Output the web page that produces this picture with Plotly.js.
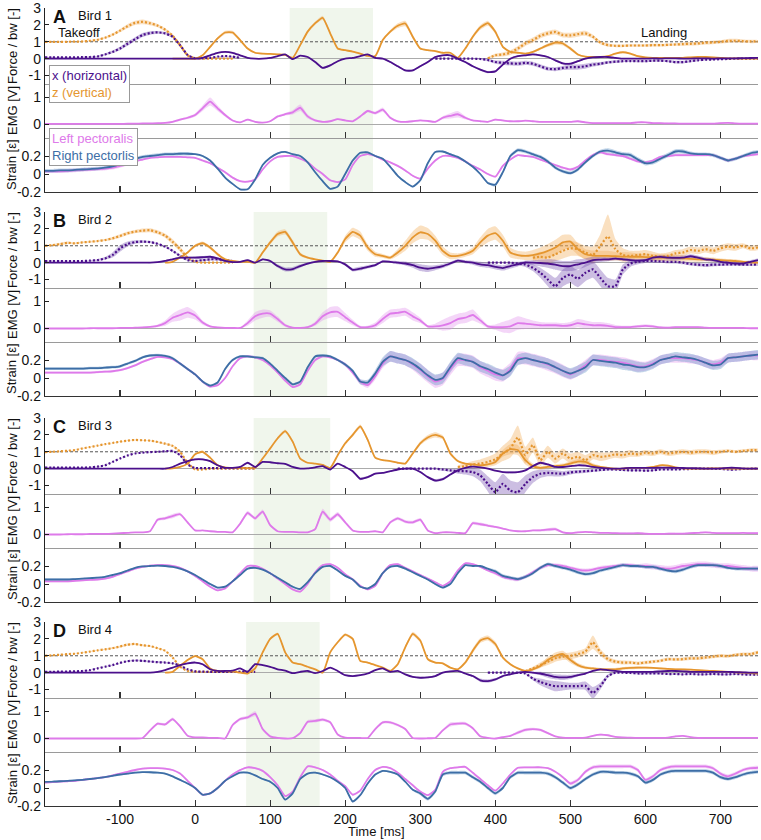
<!DOCTYPE html>
<html><head><meta charset="utf-8">
<script src="https://cdn.plot.ly/plotly-3.0.1.min.js"></script>
<style>html,body{margin:0;padding:0;background:#fff}#chart{width:761px;height:840px}</style>
</head><body><div id="chart"></div>
<script>
// ---------------- time grid (ms) ----------------
const time = [-200,-190,-180,-170,-160,-150,-140,-130,-120,-110,-100,-90,-80,-70,-60,-50,-40,-30,-20,-10,0,10,20,30,40,50,60,70,80,90,100,110,120,130,140,150,160,170,180,190,200,210,220,230,240,250,260,270,280,290,300,310,320,330,340,350,360,370,380,390,400,410,420,430,440,450,460,470,480,490,500,510,520,530,540,550,560,570,580,590,600,610,620,630,640,650,660,670,680,690,700,710,720,730,740,750];
const xTickVals = [-100,0,100,200,300,400,500,600,700];
const xTickText = ['-100','0','100','200','300','400','500','600','700'];
const birdLetters = ['A','B','C','D'];
const birdNames = ['Bird 1','Bird 2','Bird 3','Bird 4'];
const shadeStart = [126, 78, 78, 68];
const shadeEnd = [237, 176, 180, 166];

// ================= BIRD 1 =================
const b1_zT_t0 = -200;
const b1_zT = [1.0,1.0,1.0,1.0,1.01,1.02,1.06,1.12,1.24,1.42, 1.66,1.92,2.12,2.18,2.1,1.96,1.72,1.36,0.8,0.2, 0.02,0,0,0,0,0];
const b1_zT_sd = [0.03,0.03,0.03,0.03,0.03,0.03,0.04,0.05,0.06,0.08, 0.1,0.12,0.12,0.14,0.12,0.1,0.1,0.1,0.12,0.08, 0.03,0.02,0.02,0.02,0.02,0.02];
const b1_xT_t0 = -200;
const b1_xT = [0.08,0.08,0.08,0.08,0.08,0.09,0.1,0.13,0.25,0.4, 0.6,0.88,1.15,1.4,1.52,1.56,1.5,1.3,0.8,0.22, 0.02,0.02,0.05,0.12,0.15,0.12,0.05];
const b1_xT_sd = [0.02,0.02,0.02,0.02,0.02,0.03,0.04,0.05,0.06,0.08, 0.1,0.12,0.12,0.12,0.1,0.08,0.08,0.08,0.1,0.06, 0.03,0.03,0.03,0.03,0.03,0.03,0.03];
const b1_xS_t0 = -200;
const b1_xS = [0,0,0,0,0,0,0,0,0,0, 0,0,0,0,0,0,0,0,0,0,
  0,0.05,0.2,0.35,0.4,0.35,0.2,0.05,0,0,
  0.05,0.15,0.25,-0.03,0.18,0.1,-0.2,-0.55,-0.4,-0.15,
  0,0.05,0.15,0.25,0.05,0,-0.2,-0.45,-0.7,-0.7,
  -0.45,-0.2,0.1,0.2,0.2,0,-0.2,-0.45,-0.65,-0.8,
  -0.75,-0.35,0,0.15,0.2,0.25,0.2,0.1,-0.1,-0.28,
  -0.3,-0.15,0,0.08,0.1,0.1,0.05,0,0,0,
  0,0.02,0,0.02,0.02,0,0,0.02,0.02,0,
  0.02,0.02,0.02,0.03,0.04,0.05];
const b1_xS_sd = [0.01,0.01,0.01,0.01,0.01,0.01,0.01,0.01,0.01,0.01, 0.01,0.01,0.01,0.01,0.01,0.01,0.01,0.01,0.01,0.01,
  0.02,0.02,0.03,0.04,0.04,0.04,0.03,0.02,0.02,0.02,
  0.02,0.03,0.03,0.03,0.03,0.03,0.04,0.06,0.05,0.03,
  0.02,0.03,0.03,0.03,0.03,0.03,0.04,0.05,0.06,0.06,
  0.05,0.04,0.04,0.04,0.03,0.03,0.04,0.05,0.06,0.06,
  0.06,0.05,0.05,0.05,0.05,0.05,0.05,0.05,0.06,0.06,
  0.06,0.05,0.05,0.04,0.04,0.04,0.04,0.04,0.04,0.04,
  0.03,0.03,0.03,0.03,0.03,0.03,0.03,0.03,0.03,0.03,
  0.03,0.03,0.03,0.03,0.03,0.03];
const b1_zS_t0 = -30;
const b1_zS = [0,0,0,
  0,0.2,0.7,1.2,1.55,1.55,1.1,0.6,0.35,0.3,
  0.28,0.25,0.22,0.05,0.8,1.6,2.1,2.42,1.5,0.6,
  0.5,0.42,0.3,0.16,0.15,1.1,1.6,1.95,2.08,1.3,
  0.6,0.5,0.45,0.35,0.35,0.05,0.6,1.3,1.85,2.1,
  1.6,0.7,0.4,0.35,0.3,0.4,0.6,0.8,0.95,0.9,
  0.6,0.25,0.12,0.1,0.1,0.15,0.3,0.38,0.3,0.15,
  0.08,0.05,0.05,0.05,0.05,0.05,0.08,0.1,0.1,0.08,
  0.05,0.02,0.02,0,0,0];
const b1_zS_sd = [0.02,0.02,0.02,
  0.02,0.04,0.06,0.08,0.1,0.1,0.08,0.05,0.04,0.04,
  0.04,0.04,0.04,0.04,0.06,0.08,0.1,0.12,0.08,0.05,
  0.04,0.04,0.04,0.04,0.04,0.06,0.1,0.14,0.16,0.12,
  0.06,0.05,0.05,0.05,0.05,0.05,0.06,0.1,0.14,0.15,
  0.12,0.06,0.05,0.05,0.05,0.06,0.08,0.1,0.12,0.12,
  0.1,0.06,0.04,0.04,0.04,0.04,0.05,0.05,0.05,0.04,
  0.03,0.03,0.03,0.03,0.03,0.03,0.03,0.03,0.03,0.03,
  0.03,0.03,0.03,0.03,0.03,0.03];
const b1_zL_t0 = 390;
const b1_zL = [0.02,
  0.2,0.25,0.35,0.6,0.9,1.1,1.35,1.5,1.58,1.4,
  1.38,1.45,1.5,1.3,0.95,0.8,0.76,0.76,0.78,0.78,
  0.78,0.8,0.8,0.82,0.84,0.86,0.88,0.9,0.94,0.96,
  1.0,1.05,1.06,1.04,1.02,1.02];
const b1_zL_sd = [0.05,
  0.1,0.12,0.14,0.15,0.15,0.15,0.15,0.15,0.15,0.15,
  0.15,0.15,0.15,0.12,0.1,0.1,0.08,0.08,0.08,0.08,
  0.08,0.08,0.08,0.08,0.08,0.1,0.1,0.1,0.1,0.1,
  0.1,0.12,0.12,0.1,0.1,0.08];
const b1_xL_t0 = 320;
const b1_xL = [0,0,0,0,0,0,-0.02,-0.08,
  -0.2,-0.25,-0.28,-0.3,-0.25,-0.3,-0.45,-0.6,-0.62,-0.55,
  -0.5,-0.5,-0.45,-0.35,-0.3,-0.22,-0.18,-0.15,-0.14,-0.15,
  -0.15,-0.12,-0.12,-0.15,-0.2,-0.2,-0.15,-0.1,-0.06,-0.05,
  -0.03,-0.02,0,0,0,0];
const b1_xL_sd = [0.01,0.01,0.02,0.02,0.03,0.04,0.06,0.08,
  0.1,0.12,0.12,0.12,0.12,0.12,0.12,0.12,0.12,0.12,
  0.15,0.15,0.15,0.12,0.1,0.08,0.08,0.06,0.06,0.06,
  0.06,0.06,0.06,0.06,0.08,0.08,0.06,0.05,0.05,0.05,
  0.04,0.04,0.04,0.04,0.03,0.03];
const b1_emg = [0.02,0.02,0.02,0.02,0.02,0.02,0.02,0.02,0.02,0.02,
  0.02,0.03,0.03,0.04,0.04,0.05,0.06,0.1,0.18,0.25,
  0.35,0.6,0.85,0.6,0.35,0.15,0.08,0.18,0.1,0.07,
  0.12,0.3,0.38,0.45,0.62,0.3,0.15,0.1,0.12,0.2,
  0.15,0.12,0.3,0.5,0.42,0.55,0.25,0.12,0.1,0.12,
  0.15,0.13,0.1,0.25,0.32,0.38,0.25,0.15,0.12,0.1,
  0.18,0.15,0.12,0.12,0.14,0.12,0.1,0.1,0.1,0.1,
  0.1,0.12,0.08,0.05,0.05,0.05,0.05,0.05,0.05,0.08,
  0.08,0.05,0.05,0.04,0.04,0.03,0.03,0.03,0.03,0.03,
  0.05,0.06,0.04,0.03,0.03,0.03];
const b1_emg_sd = [0.01,0.01,0.01,0.01,0.01,0.01,0.01,0.01,0.01,0.01,
  0.01,0.01,0.01,0.01,0.01,0.01,0.02,0.03,0.04,0.05,
  0.06,0.1,0.15,0.1,0.06,0.03,0.02,0.03,0.03,0.02,
  0.03,0.04,0.05,0.08,0.12,0.08,0.04,0.03,0.03,0.03,
  0.03,0.03,0.04,0.05,0.06,0.08,0.05,0.03,0.03,0.03,
  0.03,0.03,0.03,0.06,0.1,0.12,0.06,0.03,0.03,0.03,
  0.03,0.03,0.03,0.03,0.03,0.03,0.03,0.03,0.03,0.03,
  0.03,0.03,0.03,0.03,0.03,0.03,0.03,0.03,0.03,0.03,
  0.02,0.02,0.02,0.02,0.02,0.02,0.02,0.02,0.02,0.02,
  0.02,0.02,0.02,0.02,0.02,0.02];
const b1_sL = [0.03,0.03,0.03,0.035,0.04,0.045,0.05,0.055,0.06,0.07,
  0.09,0.11,0.14,0.16,0.18,0.185,0.19,0.19,0.19,0.185,
  0.18,0.15,0.12,0.07,0.02,-0.04,-0.08,-0.085,-0.06,0.05,
  0.14,0.19,0.2,0.2,0.17,0.13,0.06,0.0,-0.07,-0.09,
  -0.06,0.1,0.2,0.22,0.2,0.16,0.13,0.09,0.04,-0.02,
  -0.05,0.06,0.15,0.2,0.2,0.18,0.14,0.09,0.05,0.0,
  -0.03,0.09,0.16,0.21,0.2,0.19,0.16,0.13,0.1,0.07,
  0.05,0.08,0.15,0.21,0.24,0.22,0.21,0.2,0.17,0.14,
  0.13,0.15,0.19,0.2,0.21,0.21,0.21,0.21,0.21,0.21,
  0.18,0.15,0.17,0.2,0.21,0.22];
const b1_sL_sd = [0.015,0.015,0.02,0.02,0.02,0.02,0.02,0.02,0.02,0.02,
  0.02,0.015,0.01,0.01,0.01,0.01,0.01,0.01,0.01,0.01,
  0.01,0.01,0.01,0.01,0.01,0.01,0.01,0.01,0.01,0.01,
  0.01,0.01,0.01,0.01,0.01,0.01,0.01,0.01,0.01,0.01,
  0.01,0.01,0.01,0.01,0.01,0.01,0.01,0.01,0.01,0.01,
  0.01,0.01,0.01,0.01,0.01,0.01,0.01,0.01,0.01,0.01,
  0.01,0.01,0.01,0.01,0.01,0.01,0.01,0.01,0.01,0.01,
  0.015,0.015,0.015,0.015,0.015,0.015,0.015,0.015,0.015,0.015,
  0.015,0.015,0.015,0.015,0.015,0.015,0.015,0.015,0.015,0.015,
  0.015,0.015,0.015,0.015,0.015,0.015];
const b1_sR = [0.035,0.035,0.04,0.04,0.045,0.05,0.055,0.06,0.07,0.085,
  0.11,0.14,0.165,0.19,0.2,0.21,0.22,0.22,0.225,0.225,
  0.22,0.2,0.15,0.06,-0.04,-0.11,-0.17,-0.17,-0.06,0.1,
  0.18,0.23,0.245,0.22,0.2,0.13,0.02,-0.08,-0.165,-0.14,
  0.0,0.15,0.236,0.24,0.2,0.17,0.08,-0.02,-0.09,-0.14,
  -0.07,0.12,0.245,0.25,0.22,0.19,0.14,0.08,0.0,-0.1,
  -0.12,0.02,0.2,0.265,0.25,0.22,0.19,0.14,0.07,0.03,
  0.01,0.05,0.13,0.2,0.25,0.26,0.24,0.22,0.21,0.16,
  0.12,0.13,0.17,0.21,0.25,0.25,0.23,0.22,0.22,0.21,
  0.18,0.15,0.17,0.2,0.23,0.245];
const b1_sR_sd = [0.02,0.02,0.02,0.02,0.02,0.02,0.02,0.02,0.02,0.02,
  0.02,0.02,0.02,0.02,0.02,0.02,0.02,0.02,0.02,0.02,
  0.01,0.01,0.01,0.01,0.01,0.01,0.01,0.01,0.01,0.01,
  0.01,0.01,0.01,0.01,0.01,0.01,0.01,0.01,0.01,0.01,
  0.01,0.01,0.01,0.01,0.01,0.01,0.01,0.01,0.01,0.01,
  0.01,0.01,0.01,0.01,0.01,0.01,0.01,0.01,0.01,0.01,
  0.02,0.02,0.02,0.02,0.02,0.02,0.02,0.02,0.02,0.02,
  0.02,0.02,0.02,0.02,0.02,0.025,0.025,0.025,0.025,0.025,
  0.025,0.025,0.025,0.025,0.025,0.025,0.02,0.02,0.02,0.02,
  0.02,0.02,0.02,0.02,0.02,0.02];

// ================= BIRD 2 =================
const b2_zT_t0 = -200;
const b2_zT = [1.0,1.04,1.1,1.18,1.14,1.2,1.24,1.28,1.34,1.44, 1.58,1.74,1.84,1.9,1.92,1.8,1.6,1.24,0.8,0.3, 0.05,0,0,0,0,0];
const b2_zT_sd = [0.03,0.05,0.08,0.08,0.05,0.05,0.05,0.05,0.06,0.08, 0.1,0.1,0.1,0.12,0.12,0.12,0.12,0.15,0.15,0.1, 0.03,0.02,0.02,0.02,0.02,0.02];
const b2_xT_t0 = -200;
const b2_xT = [0.1,0.1,0.1,0.1,0.1,0.1,0.12,0.15,0.25,0.45, 0.84,1.1,1.22,1.25,1.22,1.12,0.95,0.7,0.4,0.15, 0.1,0.15,0.2,0.2,0.15,0.1];
const b2_xT_sd = [0.02,0.02,0.02,0.02,0.02,0.02,0.03,0.05,0.08,0.15, 0.2,0.15,0.1,0.08,0.06,0.05,0.05,0.06,0.08,0.05, 0.04,0.06,0.08,0.08,0.06,0.04];
const b2_xS_t0 = -200;
const b2_xS = [0,0,0,0,0,0,0,0,0,0,
  0,0,0,0,0,0.03,0.1,0.2,0.3,0.3,
  0.3,0.32,0.35,0.25,0.1,0.03,0.05,0.15,0.0,0.2,
  0.1,-0.2,-0.4,-0.38,-0.2,-0.05,0.05,0.1,0.1,0.08,
  -0.1,-0.42,-0.35,-0.25,-0.15,0.08,0.05,0.0,-0.05,-0.15,
  -0.3,-0.36,-0.3,-0.2,-0.05,0.12,0.05,0.0,-0.1,-0.15,
  -0.25,-0.32,-0.2,-0.1,0.02,0.0,-0.02,-0.05,-0.12,-0.2,
  -0.2,-0.1,0.0,0.15,0.18,0.2,0.24,0.2,0.15,0.12,
  0.15,0.3,0.34,0.3,0.28,0.3,0.38,0.3,0.2,0.15,
  0.05,0.0,-0.05,-0.05,0.05,0.15];
const b2_xS_sd = [0.02,0.02,0.02,0.02,0.02,0.02,0.02,0.02,0.02,0.02,
  0.02,0.02,0.02,0.02,0.03,0.04,0.05,0.05,0.06,0.06,
  0.08,0.08,0.06,0.05,0.04,0.03,0.03,0.04,0.04,0.05,
  0.06,0.1,0.12,0.12,0.1,0.06,0.05,0.05,0.05,0.05,
  0.08,0.1,0.12,0.1,0.08,0.06,0.06,0.1,0.12,0.15,
  0.2,0.2,0.15,0.12,0.1,0.1,0.1,0.12,0.15,0.15,
  0.15,0.15,0.15,0.12,0.1,0.15,0.2,0.25,0.3,0.3,
  0.3,0.3,0.25,0.2,0.15,0.12,0.1,0.1,0.1,0.1,
  0.1,0.1,0.12,0.12,0.12,0.12,0.12,0.12,0.1,0.1,
  0.1,0.1,0.1,0.1,0.1,0.1];
const b2_zS_t0 = -40;
const b2_zS = [0,0.05,0.3,0.6,
  1.0,1.15,0.9,0.5,0.2,0.1,0.05,0.05,0,0.6,
  1.2,1.7,1.82,1.2,0.5,0.3,0.2,0.12,0.05,0.6,
  1.4,1.82,1.6,0.9,0.5,0.4,0.3,0.6,1.0,1.5,
  1.8,1.7,1.3,0.7,0.4,0.4,0.5,0.7,1.2,1.6,
  1.75,1.3,0.6,0.45,0.4,0.45,0.55,0.7,0.9,1.2,
  1.25,0.8,0.5,0.42,0.4,0.4,0.38,0.36,0.35,0.35,
  0.33,0.32,0.3,0.3,0.28,0.25,0.22,0.2,0.2,0.18,
  0.15,0.12,0.1,0.05,0.02,0];
const b2_zS_sd = [0.02,0.02,0.04,0.06,
  0.08,0.1,0.1,0.08,0.05,0.03,0.03,0.03,0.03,0.08,
  0.12,0.15,0.15,0.15,0.1,0.06,0.05,0.04,0.04,0.1,
  0.2,0.25,0.25,0.2,0.15,0.12,0.1,0.2,0.3,0.35,
  0.4,0.35,0.3,0.25,0.2,0.15,0.15,0.2,0.3,0.4,
  0.4,0.35,0.3,0.25,0.25,0.3,0.35,0.4,0.45,0.45,
  0.4,0.35,0.3,0.3,0.3,0.3,0.25,0.25,0.25,0.2,
  0.2,0.2,0.2,0.2,0.2,0.18,0.15,0.15,0.12,0.12,
  0.1,0.1,0.1,0.08,0.08,0.08];
const b2_zL_t0 = 450;
const b2_zL = [0.3,0.35,0.3,0.5,0.7,
  0.85,0.8,0.6,0.45,1.0,1.55,0.8,0.45,0.4,0.45,
  0.5,0.4,0.35,0.4,0.55,0.6,0.75,0.7,0.8,0.7,
  0.85,0.95,0.9,1.0,0.85,0.9];
const b2_zL_sd = [0.2,0.3,0.35,0.4,0.45,
  0.45,0.4,0.4,0.5,0.7,1.3,0.6,0.4,0.3,0.25,
  0.25,0.25,0.2,0.2,0.2,0.2,0.2,0.2,0.2,0.2,
  0.2,0.2,0.2,0.15,0.15,0.15];
const b2_xL_t0 = 390;
const b2_xL = [0,
  0,0,0,-0.05,-0.1,-0.3,-0.6,-1.0,-1.4,-0.9,
  -0.7,-0.95,-0.6,-0.4,-0.9,-1.4,-1.4,-0.4,-0.05,0.05,
  0.1,0.1,0.08,0.05,0.05,0,-0.08,-0.12,-0.15,-0.12,
  -0.12,-0.1,-0.1,-0.12,-0.12,-0.1];
const b2_xL_sd = [0.02,
  0.02,0.03,0.05,0.1,0.15,0.2,0.3,0.4,0.5,0.5,
  0.5,0.5,0.5,0.5,0.5,0.5,0.4,0.3,0.2,0.15,
  0.12,0.12,0.1,0.1,0.1,0.1,0.1,0.1,0.1,0.1,
  0.08,0.08,0.08,0.08,0.08,0.08];
const b2_emg = [0,0,0,0,0,0,0.01,0.01,0.01,0.01,
  0.02,0.02,0.03,0.04,0.06,0.1,0.2,0.4,0.5,0.6,
  0.48,0.22,0.08,0.04,0.02,0.02,0.02,0.2,0.45,0.55,
  0.55,0.35,0.12,0.03,0.02,0.05,0.18,0.45,0.6,0.62,
  0.42,0.22,0.05,0.05,0.12,0.35,0.55,0.58,0.62,0.45,
  0.3,0.08,0.08,0.12,0.2,0.35,0.4,0.5,0.3,0.08,
  0.05,0.05,0.08,0.2,0.18,0.15,0.12,0.12,0.12,0.1,
  0.12,0.2,0.15,0.12,0.12,0.1,0.05,0.05,0.05,0.08,
  0.1,0.08,0.04,0.03,0.05,0.05,0.05,0.05,0.03,0.02,
  0.02,0.02,0.02,0.02,0.01,0.01];
const b2_emg_sd = [0.01,0.01,0.01,0.01,0.01,0.01,0.01,0.01,0.01,0.01,
  0.01,0.01,0.01,0.02,0.03,0.05,0.1,0.15,0.2,0.2,
  0.15,0.08,0.04,0.02,0.02,0.02,0.02,0.1,0.15,0.15,
  0.12,0.1,0.06,0.03,0.02,0.03,0.08,0.15,0.2,0.2,
  0.15,0.1,0.05,0.05,0.1,0.15,0.15,0.15,0.15,0.15,
  0.1,0.05,0.1,0.2,0.25,0.2,0.2,0.2,0.12,0.06,
  0.1,0.2,0.25,0.25,0.2,0.15,0.12,0.1,0.1,0.1,
  0.12,0.15,0.15,0.12,0.12,0.1,0.08,0.05,0.05,0.05,
  0.06,0.05,0.04,0.03,0.03,0.03,0.03,0.03,0.02,0.02,
  0.02,0.02,0.02,0.02,0.02,0.02];
const b2_sL = [0.06,0.06,0.06,0.06,0.06,0.06,0.06,0.065,0.07,0.075,
  0.087,0.11,0.14,0.18,0.21,0.235,0.23,0.21,0.16,0.1,
  0.04,-0.04,-0.095,-0.08,0.0,0.13,0.22,0.24,0.23,0.2,
  0.14,0.06,-0.03,-0.1,-0.07,0.08,0.2,0.24,0.23,0.2,
  0.15,0.06,-0.04,-0.08,0.02,0.16,0.24,0.22,0.2,0.15,
  0.09,0.02,-0.04,-0.01,0.1,0.2,0.2,0.18,0.12,0.08,
  0.04,0.03,0.1,0.22,0.22,0.2,0.18,0.15,0.12,0.08,
  0.04,0.08,0.14,0.2,0.2,0.19,0.18,0.17,0.15,0.13,
  0.13,0.16,0.2,0.22,0.22,0.22,0.21,0.2,0.17,0.15,
  0.17,0.22,0.23,0.24,0.25,0.25];
const b2_sL_sd = [0.012,0.012,0.012,0.012,0.012,0.012,0.012,0.012,0.012,0.012,
  0.012,0.012,0.012,0.012,0.012,0.012,0.012,0.012,0.012,0.012,
  0.012,0.012,0.012,0.012,0.012,0.012,0.012,0.012,0.012,0.012,
  0.012,0.012,0.012,0.012,0.012,0.012,0.012,0.012,0.012,0.012,
  0.02,0.02,0.03,0.03,0.04,0.05,0.06,0.06,0.06,0.06,
  0.07,0.07,0.07,0.07,0.07,0.07,0.07,0.07,0.07,0.07,
  0.07,0.07,0.07,0.07,0.07,0.07,0.07,0.07,0.07,0.07,
  0.06,0.06,0.06,0.06,0.06,0.06,0.06,0.06,0.06,0.06,
  0.05,0.05,0.05,0.05,0.05,0.05,0.05,0.05,0.05,0.05,
  0.05,0.05,0.05,0.05,0.05,0.05];
const b2_sR = [0.105,0.105,0.105,0.105,0.105,0.105,0.11,0.11,0.115,0.12,
  0.13,0.16,0.19,0.23,0.25,0.255,0.245,0.22,0.16,0.1,
  0.04,-0.04,-0.085,-0.05,0.1,0.2,0.24,0.24,0.23,0.22,
  0.16,0.08,0.0,-0.07,-0.04,0.12,0.24,0.25,0.24,0.2,
  0.15,0.08,-0.04,-0.05,0.05,0.18,0.24,0.22,0.2,0.16,
  0.1,0.03,-0.02,0.0,0.12,0.22,0.2,0.18,0.13,0.1,
  0.06,0.03,0.08,0.2,0.22,0.2,0.18,0.16,0.12,0.08,
  0.05,0.08,0.12,0.2,0.19,0.18,0.17,0.15,0.14,0.12,
  0.12,0.15,0.2,0.22,0.24,0.23,0.22,0.2,0.17,0.14,
  0.15,0.22,0.23,0.24,0.25,0.26];
const b2_sR_sd = [0.015,0.015,0.015,0.015,0.015,0.015,0.015,0.015,0.015,0.015,
  0.015,0.015,0.015,0.015,0.015,0.015,0.015,0.015,0.015,0.015,
  0.015,0.015,0.015,0.015,0.015,0.015,0.015,0.015,0.015,0.015,
  0.015,0.015,0.015,0.015,0.015,0.015,0.015,0.015,0.015,0.015,
  0.02,0.02,0.03,0.03,0.04,0.05,0.06,0.06,0.06,0.06,
  0.06,0.06,0.06,0.06,0.06,0.06,0.06,0.06,0.06,0.06,
  0.06,0.06,0.06,0.06,0.06,0.06,0.06,0.06,0.06,0.06,
  0.06,0.06,0.06,0.06,0.06,0.06,0.06,0.06,0.06,0.06,
  0.05,0.05,0.05,0.05,0.05,0.05,0.05,0.05,0.05,0.05,
  0.05,0.05,0.05,0.05,0.05,0.05];

// ================= BIRD 3 =================
const b3_zT_t0 = -200;
const b3_zT = [0.98,1.0,1.03,1.06,1.1,1.2,1.28,1.36,1.45,1.52, 1.6,1.66,1.7,1.68,1.66,1.58,1.48,1.35,1.0,0.35, -0.05,-0.05,0,0,0,0,0,0,0];
const b3_zT_sd = [0.02,0.02,0.02,0.02,0.02,0.02,0.02,0.02,0.02,0.02, 0.02,0.02,0.02,0.02,0.03,0.04,0.05,0.06,0.08,0.06, 0.02,0.02,0.02,0.02,0.02,0.02,0.02,0.02,0.02];
const b3_xT_t0 = -200;
const b3_xT = [0.06,0.06,0.06,0.06,0.06,0.06,0.08,0.12,0.2,0.4, 0.6,0.78,0.9,0.95,0.98,1.0,1.03,1.05,0.8,0.25, 0.04,0.03,0.03,0.03,0.03,0.03,0.03,0.03,0.03];
const b3_xT_sd = [0.02,0.02,0.02,0.02,0.02,0.02,0.02,0.02,0.02,0.02, 0.02,0.02,0.02,0.02,0.02,0.02,0.03,0.04,0.05,0.04, 0.02,0.02,0.02,0.02,0.02,0.02,0.02,0.02,0.02];
const b3_xS_t0 = -200;
const b3_xS = [0,0,0,0,0,0,0,0,0,0,
  0,0,0,0,0,0,0,0.1,0.3,0.45,
  0.55,0.55,0.45,0.2,0.05,0.05,0.1,0.35,0.1,0.4,
  0.38,0.32,0.28,0.1,0,0.02,0.08,0.15,-0.05,0.3,
  0.1,-0.15,-0.6,-0.5,-0.3,-0.25,-0.15,-0.05,0,0,
  -0.2,-0.5,-0.7,-0.62,-0.35,-0.1,0.05,0.12,0.08,0,
  -0.12,-0.2,-0.22,-0.2,-0.1,0.15,0.35,0.25,0.1,0.1,
  0.15,0.2,0.18,0.1,0.05,0.02,0,0.02,0.05,0.05,
  0.05,0.05,0.06,0.06,0.05,0.04,0.03,0.02,0,0,
  0.02,0.05,0.05,0.02,0,0];
const b3_xS_sd = [0.01,0.01,0.01,0.01,0.01,0.01,0.01,0.01,0.01,0.01,
  0.01,0.01,0.01,0.01,0.01,0.01,0.01,0.02,0.03,0.04,
  0.05,0.05,0.04,0.03,0.02,0.02,0.02,0.03,0.02,0.03,
  0.03,0.03,0.03,0.02,0.02,0.02,0.02,0.02,0.02,0.03,
  0.03,0.04,0.08,0.06,0.04,0.03,0.03,0.03,0.03,0.03,
  0.04,0.06,0.08,0.08,0.05,0.03,0.03,0.03,0.03,0.03,
  0.04,0.05,0.06,0.05,0.05,0.06,0.06,0.05,0.04,0.04,
  0.04,0.04,0.04,0.03,0.03,0.03,0.03,0.03,0.03,0.03,
  0.03,0.03,0.03,0.03,0.03,0.03,0.03,0.03,0.03,0.03,
  0.03,0.03,0.03,0.03,0.03,0.03];
const b3_zS_t0 = -40;
const b3_zS = [0,0.02,0.1,0.3,
  0.85,1.0,0.65,0.2,0.08,0.05,0.05,0.03,0.05,0.6,
  1.2,1.8,2.22,1.6,0.6,0.35,0.3,0.22,0.05,0.8,
  1.5,2.0,2.5,1.7,0.65,0.5,0.45,0.35,0.3,0.9,
  1.5,1.85,2.0,1.85,0.9,0.45,0.3,0.25,0.2,0.25,
  0.4,0.9,1.15,1.1,0.5,0.15,0.05,0.1,0.15,0.2,
  0.3,0.42,0.4,0.2,0.1,0.05,0,0,0.05,0.05,
  0.05,0.1,0.2,0.18,0.08,0.02,0,0,0,0.02,
  0.02,0,0,0,0,0];
const b3_zS_sd = [0.02,0.02,0.02,0.03,
  0.05,0.08,0.06,0.03,0.02,0.02,0.02,0.02,0.02,0.04,
  0.06,0.08,0.1,0.1,0.06,0.04,0.03,0.03,0.03,0.05,
  0.08,0.1,0.12,0.1,0.06,0.04,0.04,0.04,0.04,0.08,
  0.12,0.14,0.15,0.12,0.08,0.05,0.04,0.04,0.04,0.05,
  0.1,0.2,0.3,0.3,0.25,0.15,0.1,0.1,0.1,0.1,
  0.12,0.15,0.15,0.12,0.08,0.05,0.04,0.04,0.04,0.04,
  0.04,0.04,0.06,0.06,0.04,0.03,0.03,0.03,0.03,0.03,
  0.03,0.03,0.03,0.03,0.03,0.03];
const b3_zL_t0 = 350;
const b3_zL = [0.1,0.15,0.25,0.3,0.4,
  0.55,0.9,1.2,1.85,0.8,1.4,0.5,1.0,0.6,0.9,
  0.6,0.7,0.5,0.8,0.7,0.75,0.85,0.8,0.9,0.85,
  0.95,0.9,1.0,0.9,0.95,1.0,0.95,1.0,1.0,0.95,
  1.0,1.05,1.0,1.05,1.1,1.1];
const b3_zL_sd = [0.1,0.15,0.2,0.25,0.3,
  0.35,0.45,0.55,0.7,0.5,0.45,0.35,0.35,0.3,0.3,
  0.3,0.3,0.3,0.25,0.25,0.2,0.2,0.2,0.2,0.15,
  0.15,0.15,0.15,0.15,0.15,0.15,0.15,0.15,0.15,0.15,
  0.12,0.1,0.1,0.1,0.1,0.08];
const b3_xL_t0 = 270;
const b3_xL = [0,0,0,
  0,0,0,-0.05,-0.1,-0.15,-0.15,-0.2,-0.4,-0.9,
  -1.4,-0.9,-1.3,-1.4,-0.9,-0.5,-0.3,-0.25,-0.28,-0.3,
  -0.22,-0.18,-0.15,-0.12,-0.08,-0.05,-0.05,-0.08,-0.1,-0.1,
  -0.12,-0.1,-0.05,-0.05,-0.05,-0.03,-0.02,0,0,0,
  -0.02,-0.05,-0.05,-0.02,0,0];
const b3_xL_sd = [0.02,0.02,0.03,
  0.04,0.05,0.06,0.08,0.1,0.15,0.2,0.25,0.35,0.45,
  0.6,0.6,0.6,0.6,0.5,0.35,0.25,0.2,0.18,0.15,
  0.12,0.1,0.1,0.08,0.08,0.06,0.06,0.06,0.06,0.06,
  0.06,0.06,0.05,0.05,0.05,0.05,0.05,0.05,0.05,0.05,
  0.05,0.06,0.06,0.05,0.04,0.04];
const b3_emg = [0,0,0,0.01,0.01,0.01,0.02,0.02,0.02,0.03,
  0.05,0.06,0.08,0.08,0.12,0.55,0.6,0.68,0.75,0.45,
  0.15,0.15,0.12,0.1,0.1,0.08,0.4,0.8,0.6,0.85,
  0.35,0.12,0.1,0.1,0.08,0.08,0.2,0.85,0.55,0.75,
  0.45,0.15,0.1,0.1,0.12,0.08,0.45,0.6,0.48,0.45,
  0.55,0.15,0.05,0.08,0.08,0.06,0.05,0.42,0.38,0.33,
  0.28,0.22,0.15,0.12,0.12,0.15,0.15,0.18,0.2,0.08,
  0.05,0.08,0.1,0.08,0.06,0.06,0.05,0.04,0.04,0.05,
  0.03,0.02,0.02,0.03,0.03,0.03,0.05,0.06,0.08,0.06,
  0.05,0.05,0.05,0.06,0.05,0.05];
const b3_emg_sd = [0.01,0.01,0.01,0.01,0.01,0.01,0.01,0.01,0.01,0.01,
  0.01,0.01,0.01,0.01,0.02,0.05,0.06,0.08,0.06,0.05,
  0.03,0.02,0.02,0.02,0.02,0.02,0.05,0.08,0.06,0.08,
  0.05,0.02,0.02,0.02,0.02,0.02,0.04,0.1,0.08,0.08,
  0.05,0.03,0.02,0.02,0.02,0.02,0.05,0.06,0.06,0.06,
  0.06,0.03,0.02,0.02,0.02,0.02,0.02,0.06,0.06,0.05,
  0.04,0.03,0.03,0.03,0.03,0.03,0.04,0.06,0.06,0.03,
  0.03,0.03,0.03,0.03,0.03,0.03,0.03,0.03,0.03,0.03,
  0.03,0.03,0.03,0.03,0.03,0.03,0.03,0.03,0.03,0.03,
  0.03,0.03,0.03,0.03,0.03,0.03];
const b3_sL = [0.03,0.03,0.03,0.03,0.035,0.04,0.045,0.05,0.06,0.08,
  0.11,0.14,0.17,0.19,0.205,0.21,0.21,0.2,0.18,0.14,
  0.09,0.03,-0.03,-0.07,-0.05,0.03,0.12,0.2,0.2,0.17,
  0.12,0.06,0.0,-0.06,-0.085,0.0,0.13,0.21,0.22,0.18,
  0.11,0.05,-0.02,-0.06,-0.02,0.12,0.21,0.22,0.18,0.14,
  0.1,0.06,0.02,-0.02,0.03,0.15,0.23,0.22,0.19,0.15,
  0.12,0.08,0.06,0.05,0.08,0.13,0.18,0.21,0.21,0.2,
  0.18,0.16,0.15,0.16,0.18,0.19,0.2,0.21,0.21,0.2,
  0.2,0.19,0.18,0.17,0.18,0.2,0.21,0.22,0.22,0.21,
  0.2,0.2,0.19,0.18,0.17,0.17];
const b3_sL_sd = [0.01,0.01,0.01,0.01,0.01,0.01,0.01,0.01,0.01,0.01,
  0.01,0.01,0.01,0.01,0.01,0.01,0.01,0.01,0.01,0.01,
  0.01,0.01,0.01,0.01,0.01,0.01,0.01,0.01,0.01,0.01,
  0.01,0.01,0.01,0.01,0.01,0.01,0.01,0.01,0.01,0.01,
  0.01,0.01,0.01,0.01,0.01,0.01,0.01,0.01,0.01,0.01,
  0.01,0.01,0.01,0.01,0.01,0.01,0.01,0.01,0.01,0.01,
  0.02,0.02,0.02,0.02,0.02,0.02,0.02,0.02,0.02,0.02,
  0.02,0.02,0.02,0.02,0.02,0.02,0.02,0.02,0.02,0.02,
  0.03,0.03,0.03,0.03,0.03,0.03,0.03,0.03,0.03,0.03,
  0.03,0.03,0.03,0.03,0.03,0.03];
const b3_sR = [0.05,0.05,0.05,0.05,0.055,0.06,0.065,0.07,0.08,0.1,
  0.12,0.15,0.18,0.195,0.2,0.205,0.2,0.19,0.17,0.14,
  0.1,0.05,0.0,-0.04,-0.03,0.03,0.1,0.17,0.18,0.16,
  0.12,0.07,0.02,-0.03,-0.055,0.02,0.12,0.19,0.2,0.15,
  0.09,0.05,-0.03,-0.05,0.0,0.12,0.19,0.2,0.17,0.13,
  0.09,0.05,0.0,-0.04,0.0,0.12,0.21,0.2,0.2,0.17,
  0.14,0.09,0.07,0.055,0.08,0.12,0.18,0.22,0.2,0.18,
  0.16,0.13,0.11,0.12,0.15,0.17,0.19,0.21,0.2,0.2,
  0.19,0.19,0.17,0.15,0.14,0.16,0.19,0.21,0.21,0.21,
  0.2,0.18,0.17,0.17,0.17,0.17];
const b3_sR_sd = [0.01,0.01,0.01,0.01,0.01,0.01,0.01,0.01,0.01,0.01,
  0.01,0.01,0.01,0.01,0.01,0.01,0.01,0.01,0.01,0.01,
  0.01,0.01,0.01,0.01,0.01,0.01,0.01,0.01,0.01,0.01,
  0.01,0.01,0.01,0.01,0.01,0.01,0.01,0.01,0.01,0.01,
  0.01,0.01,0.01,0.01,0.01,0.01,0.01,0.01,0.01,0.01,
  0.01,0.01,0.01,0.01,0.01,0.01,0.01,0.01,0.01,0.01,
  0.02,0.02,0.02,0.02,0.02,0.02,0.02,0.02,0.02,0.02,
  0.02,0.02,0.02,0.02,0.02,0.02,0.02,0.02,0.02,0.02,
  0.02,0.02,0.02,0.02,0.02,0.02,0.02,0.02,0.02,0.02,
  0.02,0.02,0.02,0.02,0.02,0.02];

// ================= BIRD 4 =================
const b4_zT_t0 = -200;
const b4_zT = [1.0,1.03,1.06,1.1,1.12,1.18,1.25,1.32,1.38,1.45, 1.55,1.66,1.7,1.62,1.58,1.45,1.3,0.9,0.35,0.1, 0.06,0.05,0.05,0.05,0.05,0.05,0.05,0.05,0.05];
const b4_zT_sd = [0.02,0.02,0.02,0.02,0.02,0.02,0.02,0.03,0.04,0.05, 0.06,0.06,0.06,0.05,0.05,0.04,0.04,0.05,0.05,0.03, 0.02,0.02,0.02,0.02,0.02,0.02,0.02,0.02,0.02];
const b4_xT_t0 = -200;
const b4_xT = [0.05,0.05,0.06,0.07,0.08,0.1,0.15,0.25,0.35,0.45, 0.58,0.68,0.72,0.7,0.66,0.62,0.6,0.55,0.42,0.2, 0.08,0.06,0.05,0.05,0.05,0.05,0.05,0.05,0.05];
const b4_xT_sd = [0.02,0.02,0.02,0.02,0.02,0.02,0.02,0.02,0.02,0.02, 0.02,0.03,0.04,0.05,0.05,0.05,0.05,0.04,0.03,0.02, 0.02,0.02,0.02,0.02,0.02,0.02,0.02,0.02,0.02];
const b4_xS_t0 = -200;
const b4_xS = [0,0,0,0,0,0,0,0,0,0,
  0,0,0,0,0,0.05,0.15,0.3,0.45,0.55,
  0.6,0.5,0.2,0.1,0.1,0.12,0.25,0.05,0.5,0.45,
  0.35,0.2,0.12,-0.03,0.05,0.1,-0.03,0.1,0.3,0.1,
  -0.15,-0.2,-0.15,-0.05,0.15,0.25,0.05,0.1,-0.1,-0.25,
  -0.3,-0.28,-0.2,0.0,0.08,0.1,-0.05,-0.2,-0.45,-0.5,
  -0.4,-0.2,-0.1,0.0,0.05,0.0,-0.05,-0.15,-0.25,-0.28,
  -0.25,-0.15,-0.05,0.1,0.2,0.15,0.1,0.05,0.05,0.05,
  0.05,0.05,0.08,0.1,0.1,0.08,0.05,0.05,0.05,0.05,
  0.05,0.05,0.03,0.02,0.0,0.0];
const b4_xS_sd = [0.01,0.01,0.01,0.01,0.01,0.01,0.01,0.01,0.01,0.01,
  0.01,0.01,0.01,0.01,0.01,0.02,0.03,0.03,0.04,0.04,
  0.04,0.04,0.03,0.02,0.02,0.02,0.03,0.02,0.04,0.04,
  0.03,0.03,0.02,0.02,0.02,0.02,0.02,0.02,0.03,0.02,
  0.03,0.03,0.03,0.02,0.03,0.03,0.03,0.03,0.03,0.04,
  0.05,0.05,0.04,0.03,0.03,0.03,0.04,0.06,0.1,0.1,
  0.08,0.05,0.04,0.04,0.04,0.06,0.1,0.15,0.15,0.15,
  0.12,0.08,0.06,0.05,0.05,0.04,0.04,0.04,0.04,0.04,
  0.03,0.03,0.03,0.03,0.03,0.03,0.03,0.03,0.03,0.03,
  0.03,0.03,0.03,0.03,0.03,0.03];
const b4_zS_t0 = -40;
const b4_zS = [0,0.05,0.4,0.75,
  0.98,0.8,0.25,0.1,0.1,0.08,0,-0.05,0.25,1.2,
  2.0,2.3,1.2,0.6,0.5,0.35,0.2,0,1.2,1.8,
  2.25,2.0,0.7,0.6,0.45,0.3,0.1,0.5,1.5,2.3,
  1.9,0.8,0.6,0.55,0.3,0.2,0.6,1.3,1.9,2.05,
  1.7,0.9,0.5,0.25,0.1,0.2,0.4,0.75,1.0,1.1,
  0.75,0.45,0.3,0.25,0.2,0.2,0.2,0.25,0.28,0.3,
  0.3,0.28,0.25,0.22,0.2,0.2,0.18,0.15,0.12,0.1,
  0.08,0.05,0.02,0,-0.02,-0.05];
const b4_zS_sd = [0.02,0.02,0.03,0.04,
  0.05,0.04,0.03,0.02,0.02,0.02,0.02,0.02,0.03,0.05,
  0.06,0.08,0.06,0.04,0.03,0.03,0.03,0.03,0.05,0.06,
  0.08,0.08,0.05,0.04,0.03,0.03,0.03,0.06,0.1,0.12,
  0.12,0.08,0.06,0.05,0.04,0.05,0.1,0.15,0.15,0.15,
  0.15,0.1,0.06,0.05,0.05,0.08,0.12,0.18,0.2,0.2,
  0.18,0.12,0.1,0.08,0.08,0.08,0.08,0.08,0.08,0.08,
  0.06,0.06,0.06,0.06,0.06,0.05,0.05,0.05,0.05,0.05,
  0.04,0.04,0.04,0.04,0.04,0.04];
const b4_zL_t0 = 440;
const b4_zL = [0.1,0.25,0.45,0.65,0.85,0.95,
  1.0,1.1,1.25,1.8,1.2,0.8,0.65,0.6,0.6,0.55,
  0.6,0.65,0.7,0.8,0.78,0.8,0.85,0.85,0.9,0.95,
  1.0,0.98,1.05,1.1,1.1,1.2];
const b4_zL_sd = [0.05,0.1,0.15,0.2,0.2,0.2,
  0.2,0.2,0.2,0.4,0.2,0.15,0.12,0.12,0.1,0.1,
  0.1,0.1,0.1,0.1,0.1,0.1,0.1,0.1,0.1,0.1,
  0.1,0.1,0.1,0.1,0.1,0.1];
const b4_xL_t0 = 390;
const b4_xL = [0,
  0,0,0,0,-0.05,-0.35,-0.55,-0.7,-0.8,-0.8,
  -0.8,-0.8,-0.78,-1.2,-0.8,-0.2,0,0,-0.02,-0.05,
  -0.05,-0.05,-0.05,-0.08,-0.08,-0.1,-0.08,-0.1,-0.1,-0.08,
  -0.1,-0.1,-0.08,-0.1,-0.12,-0.12];
const b4_xL_sd = [0.02,
  0.02,0.02,0.02,0.02,0.05,0.1,0.2,0.25,0.3,0.25,
  0.2,0.2,0.25,0.35,0.2,0.1,0.05,0.05,0.05,0.05,
  0.05,0.05,0.05,0.05,0.05,0.05,0.05,0.05,0.05,0.05,
  0.05,0.05,0.05,0.05,0.05,0.05];
const b4_emg = [0,0,0,0,0,0,0,0,0,0,
  0,0,0,0.02,0.3,0.55,0.52,0.72,0.45,0.1,
  0.04,0.04,0.02,0.02,0.0,0.5,0.72,0.78,0.92,0.35,
  0.08,0.02,0.0,0.01,0.2,0.62,0.65,0.7,0.6,0.15,
  0.03,0.02,0.02,0.02,0.35,0.6,0.6,0.5,0.35,0.02,
  0.0,0.01,0.02,0.3,0.52,0.55,0.55,0.38,0.08,0.02,
  0.0,0.05,0.1,0.22,0.32,0.35,0.32,0.2,0.08,0.03,
  0.02,0.02,0.03,0.1,0.14,0.12,0.06,0.04,0.03,0.02,
  0.02,0.02,0.02,0.03,0.08,0.1,0.05,0.02,0.02,0.02,
  0.02,0.02,0.02,0.02,0.02,0.02];
const b4_emg_sd = [0.01,0.01,0.01,0.01,0.01,0.01,0.01,0.01,0.01,0.01,
  0.01,0.01,0.01,0.01,0.03,0.05,0.05,0.06,0.04,0.02,
  0.01,0.01,0.01,0.01,0.01,0.05,0.06,0.06,0.1,0.05,
  0.02,0.01,0.01,0.01,0.03,0.06,0.06,0.06,0.05,0.02,
  0.01,0.01,0.01,0.01,0.04,0.05,0.05,0.05,0.04,0.01,
  0.01,0.01,0.01,0.04,0.08,0.06,0.06,0.04,0.02,0.01,
  0.01,0.02,0.03,0.06,0.06,0.05,0.05,0.04,0.02,0.01,
  0.01,0.01,0.01,0.03,0.04,0.03,0.02,0.01,0.01,0.01,
  0.01,0.01,0.01,0.01,0.03,0.03,0.02,0.01,0.01,0.01,
  0.01,0.01,0.01,0.01,0.01,0.01];
const b4_sL = [0.06,0.065,0.07,0.075,0.08,0.09,0.1,0.11,0.12,0.14,
  0.16,0.18,0.2,0.215,0.22,0.22,0.215,0.2,0.16,0.08,
  0.0,-0.075,-0.06,0.0,0.08,0.15,0.2,0.23,0.22,0.19,
  0.12,0.03,-0.09,-0.04,0.12,0.24,0.23,0.2,0.15,0.08,
  0.02,-0.075,-0.03,0.1,0.2,0.235,0.22,0.17,0.1,0.03,
  -0.04,-0.08,-0.02,0.18,0.22,0.23,0.235,0.17,0.1,0.03,
  -0.03,0.05,0.15,0.225,0.23,0.23,0.23,0.22,0.18,0.12,
  0.05,0.09,0.18,0.23,0.24,0.24,0.24,0.24,0.24,0.2,
  0.09,0.13,0.2,0.23,0.24,0.24,0.24,0.24,0.24,0.22,
  0.16,0.13,0.16,0.2,0.22,0.225];
const b4_sL_sd = [0.01,0.01,0.01,0.01,0.01,0.01,0.01,0.01,0.01,0.01,
  0.01,0.01,0.01,0.01,0.01,0.01,0.01,0.01,0.01,0.01,
  0.01,0.01,0.01,0.01,0.01,0.01,0.01,0.01,0.01,0.01,
  0.01,0.01,0.01,0.01,0.01,0.01,0.01,0.01,0.01,0.01,
  0.01,0.01,0.01,0.01,0.01,0.01,0.01,0.01,0.01,0.01,
  0.01,0.01,0.01,0.01,0.01,0.01,0.01,0.01,0.01,0.01,
  0.01,0.01,0.01,0.01,0.01,0.01,0.01,0.01,0.01,0.01,
  0.02,0.02,0.02,0.02,0.02,0.02,0.02,0.02,0.02,0.02,
  0.02,0.02,0.02,0.02,0.02,0.02,0.02,0.02,0.02,0.02,
  0.02,0.02,0.02,0.02,0.02,0.02];
const b4_sR = [0.067,0.07,0.075,0.08,0.085,0.09,0.1,0.11,0.12,0.135,
  0.15,0.16,0.17,0.176,0.175,0.17,0.16,0.13,0.09,0.05,
  0.0,-0.075,-0.06,0.0,0.08,0.13,0.17,0.17,0.14,0.1,
  0.07,0.0,-0.13,-0.06,0.1,0.16,0.17,0.15,0.12,0.07,
  0.0,-0.15,-0.08,0.05,0.15,0.19,0.18,0.15,0.07,-0.02,
  -0.06,-0.12,-0.04,0.15,0.17,0.17,0.17,0.12,0.07,0.0,
  -0.06,0.0,0.12,0.17,0.17,0.17,0.17,0.16,0.12,0.06,
  0.0,0.04,0.1,0.15,0.18,0.18,0.17,0.17,0.16,0.13,
  0.06,0.09,0.15,0.18,0.19,0.19,0.19,0.19,0.19,0.17,
  0.12,0.1,0.12,0.15,0.17,0.18];
const b4_sR_sd = [0.01,0.01,0.01,0.01,0.01,0.01,0.01,0.01,0.01,0.01,
  0.01,0.01,0.01,0.01,0.01,0.01,0.01,0.01,0.01,0.01,
  0.01,0.01,0.01,0.01,0.01,0.01,0.01,0.01,0.01,0.01,
  0.01,0.01,0.01,0.01,0.01,0.01,0.01,0.01,0.01,0.01,
  0.01,0.01,0.01,0.01,0.01,0.01,0.01,0.01,0.01,0.01,
  0.02,0.02,0.02,0.02,0.02,0.02,0.02,0.02,0.02,0.02,
  0.02,0.02,0.02,0.02,0.02,0.02,0.02,0.02,0.02,0.02,
  0.02,0.02,0.02,0.02,0.02,0.02,0.02,0.02,0.02,0.02,
  0.02,0.02,0.02,0.02,0.02,0.02,0.02,0.02,0.02,0.02,
  0.02,0.02,0.02,0.02,0.02,0.02];

// ---------------- assemble ----------------
const birds = [
 {zT:[b1_zT_t0,b1_zT,b1_zT_sd], xT:[b1_xT_t0,b1_xT,b1_xT_sd], xS:[b1_xS_t0,b1_xS,b1_xS_sd], zS:[b1_zS_t0,b1_zS,b1_zS_sd], zL:[b1_zL_t0,b1_zL,b1_zL_sd], xL:[b1_xL_t0,b1_xL,b1_xL_sd], emg:[-200,b1_emg,b1_emg_sd], sL:[-200,b1_sL,b1_sL_sd], sR:[-200,b1_sR,b1_sR_sd]},
 {zT:[b2_zT_t0,b2_zT,b2_zT_sd], xT:[b2_xT_t0,b2_xT,b2_xT_sd], xS:[b2_xS_t0,b2_xS,b2_xS_sd], zS:[b2_zS_t0,b2_zS,b2_zS_sd], zL:[b2_zL_t0,b2_zL,b2_zL_sd], xL:[b2_xL_t0,b2_xL,b2_xL_sd], emg:[-200,b2_emg,b2_emg_sd], sL:[-200,b2_sL,b2_sL_sd], sR:[-200,b2_sR,b2_sR_sd]},
 {zT:[b3_zT_t0,b3_zT,b3_zT_sd], xT:[b3_xT_t0,b3_xT,b3_xT_sd], xS:[b3_xS_t0,b3_xS,b3_xS_sd], zS:[b3_zS_t0,b3_zS,b3_zS_sd], zL:[b3_zL_t0,b3_zL,b3_zL_sd], xL:[b3_xL_t0,b3_xL,b3_xL_sd], emg:[-200,b3_emg,b3_emg_sd], sL:[-200,b3_sL,b3_sL_sd], sR:[-200,b3_sR,b3_sR_sd]},
 {zT:[b4_zT_t0,b4_zT,b4_zT_sd], xT:[b4_xT_t0,b4_xT,b4_xT_sd], xS:[b4_xS_t0,b4_xS,b4_xS_sd], zS:[b4_zS_t0,b4_zS,b4_zS_sd], zL:[b4_zL_t0,b4_zL,b4_zL_sd], xL:[b4_xL_t0,b4_xL,b4_xL_sd], emg:[-200,b4_emg,b4_emg_sd], sL:[-200,b4_sL,b4_sL_sd], sR:[-200,b4_sR,b4_sR_sd]}
];

const C_Z = '#E5962F', C_X = '#4B108C', C_L = '#DE7AEA', C_R = '#3D6EA6';
const B_Z = 'rgba(240,170,80,0.36)', B_X = 'rgba(115,75,175,0.36)', B_L = 'rgba(225,140,235,0.36)', B_R = 'rgba(90,140,195,0.36)';
const FONT = 'Liberation Sans, Arial, Helvetica, sans-serif';

const bandTraces = [], dotTraces = [], solidTraces = [];
function axId(p, n){ return n === 1 ? p : p + n; }
function addSeries(spec, color, bandColor, n, dotted){
  const [t0, mean, sd] = spec;
  const i0 = Math.round((t0 + 200) / 10);
  const len = Math.min(mean.length, sd.length);
  const xs = time.slice(i0, i0 + len);
  const ys = mean.slice(0, len);
  const up = ys.map((v, i) => v + sd[i]);
  const lo = ys.map((v, i) => v - sd[i]);
  const xa = axId('x', n), ya = axId('y', n);
  bandTraces.push({type:'scatter', mode:'lines', x: xs.concat(xs.slice().reverse()), y: up.concat(lo.slice().reverse()),
    xaxis: xa, yaxis: ya, fill:'toself', fillcolor: bandColor, line:{width:0, shape:'spline', smoothing:0.5}, hoverinfo:'skip', showlegend:false});
  const tr = {type:'scatter', mode:'lines', x: xs, y: ys, xaxis: xa, yaxis: ya,
    line:{color: color, width: dotted ? 2.2 : 1.8, dash: dotted ? '2px,2px' : 'solid', shape:'spline', smoothing:0.5}, hoverinfo:'skip', showlegend:false};
  (dotted ? dotTraces : solidTraces).push(tr);
}

birds.forEach((b, k) => {
  const nF = 3*k + 1, nE = 3*k + 2, nS = 3*k + 3;
  addSeries(b.zT, C_Z, B_Z, nF, true);
  addSeries(b.xT, C_X, B_X, nF, true);
  addSeries(b.zL, C_Z, B_Z, nF, true);
  addSeries(b.xL, C_X, B_X, nF, true);
  addSeries(b.zS, C_Z, B_Z, nF, false);
  addSeries(b.xS, C_X, B_X, nF, false);
  addSeries(b.emg, C_L, B_L, nE, false);
  addSeries(b.sL, C_L, B_L, nS, false);
  addSeries(b.sR, C_R, B_R, nS, false);
});

// ---------------- layout ----------------
const blockTop = [8, 212, 418, 622];
const H_F = 76, H_E = 54, H_S = 54;
const yTopPx = 8, yBotPx = 806, PH = yBotPx - yTopPx;
const fr = y => (yBotPx - y) / PH;
const px = x => (x - 45) / 713;

const layout = {
  width: 761, height: 840,
  margin: {l: 45, r: 3, t: 8, b: 34},
  paper_bgcolor: '#fff', plot_bgcolor: 'rgba(0,0,0,0)',
  font: {family: FONT, size: 14, color: '#111'},
  showlegend: false,
  shapes: [], annotations: []
};

const yTitles = ['Force / bw [-]', 'EMG [V]', 'Strain [ε]'];
for (let k = 0; k < 4; k++) {
  const top = blockTop[k];
  const bounds = [[top, top + H_F], [top + H_F, top + H_F + H_E], [top + H_F + H_E, top + H_F + H_E + H_S]];
  const ranges = [[-1.5, 3], [-0.5, 1.5], [-0.2, 0.4]];
  const tv = [[-1,0,1,2,3], [0,1], [-0.2,0,0.2]];
  const tt = [['-1','0','1','2','3'], ['0','1'], ['-0.2','0','0.2']];
  for (let p = 0; p < 3; p++) {
    const n = 3*k + p + 1;
    const xk = 'xaxis' + (n === 1 ? '' : n), yk = 'yaxis' + (n === 1 ? '' : n);
    layout[xk] = {
      domain: [0, 1], range: [-200, 750], anchor: axId('y', n),
      showline: true, linecolor: p === 2 ? '#333' : '#9a9a9a', linewidth: 1.3,
      ticks: 'inside', ticklen: 6, tickcolor: '#333', tickwidth: 1.2,
      tickmode: 'array', tickvals: xTickVals, ticktext: xTickText,
      showticklabels: n === 12, tickfont: {size: 14, family: FONT, color: '#111'},
      showgrid: false, zeroline: false, fixedrange: true
    };
    if (n !== 1) layout[xk].matches = 'x';
    layout[yk] = {
      domain: [fr(bounds[p][1]), fr(bounds[p][0])], range: ranges[p], anchor: axId('x', n),
      showline: true, linecolor: '#222', linewidth: 1.2,
      ticks: 'inside', ticklen: 4, tickcolor: '#222',
      tickmode: 'array', tickvals: tv[p], ticktext: tt[p], ticklabeloverflow: 'allow',
      tickfont: {size: 14, family: FONT, color: '#111'},
      showgrid: false, zeroline: p < 2, zerolinecolor: '#ababab', zerolinewidth: 1.6,
      fixedrange: true
    };
    layout.annotations.push({
      text: yTitles[p], textangle: -90, xref: 'paper', yref: 'paper',
      x: px(12), y: fr((bounds[p][0] + bounds[p][1]) / 2), xanchor: 'center', yanchor: 'middle',
      showarrow: false, font: {size: 13, family: FONT, color: '#111'}
    });
  }
  // shaded window
  layout.shapes.push({type: 'rect', xref: 'x', yref: 'paper', x0: shadeStart[k], x1: shadeEnd[k],
    y0: fr(top + 184), y1: fr(top), fillcolor: '#F0F6EC', line: {width: 0}, layer: 'below'});
  // dotted 1 bw line
  layout.shapes.push({type: 'line', xref: 'x', yref: axId('y', 3*k + 1), x0: -200, x1: 750, y0: 1, y1: 1,
    line: {color: '#555', width: 1, dash: '3px,2px'}, layer: 'below'});
  layout.annotations.push({text: '<b>' + birdLetters[k] + '</b>', xref: 'paper', yref: 'paper',
    x: px(51), y: fr(top - 3), xanchor: 'left', yanchor: 'top', showarrow: false,
    font: {size: 18, family: FONT, color: '#111'}});
  layout.annotations.push({text: birdNames[k], xref: 'paper', yref: 'paper',
    x: px(76), y: fr(top - 2), xanchor: 'left', yanchor: 'top', showarrow: false,
    font: {size: 13, family: FONT, color: '#111'}});
}

layout.annotations.push({text: 'Takeoff', xref: 'paper', yref: 'paper', x: px(56), y: fr(33),
  xanchor: 'left', yanchor: 'middle', showarrow: false, font: {size: 13, family: FONT, color: '#111'}});
layout.annotations.push({text: 'Landing', xref: 'paper', yref: 'paper', x: px(639), y: fr(33),
  xanchor: 'left', yanchor: 'middle', showarrow: false, font: {size: 13, family: FONT, color: '#111'}});
layout.annotations.push({
  text: '<span style="color:' + C_X + '">x (horizontal)</span><br><span style="color:' + C_Z + '">z (vertical)</span>',
  xref: 'paper', yref: 'paper', x: px(49), y: fr(65), xanchor: 'left', yanchor: 'top', align: 'left',
  showarrow: false, bgcolor: '#fff', bordercolor: '#999', borderwidth: 1, borderpad: 2,
  font: {size: 13, family: FONT}});
layout.annotations.push({
  text: '<span style="color:' + C_L + '">Left pectoralis</span><br><span style="color:' + C_R + '">Right pectorlis</span>',
  xref: 'paper', yref: 'paper', x: px(49), y: fr(128), xanchor: 'left', yanchor: 'top', align: 'left',
  showarrow: false, bgcolor: '#fff', bordercolor: '#999', borderwidth: 1, borderpad: 2,
  font: {size: 13, family: FONT}});
layout.annotations.push({text: 'Time [ms]', xref: 'paper', yref: 'paper', x: px(376), y: fr(831),
  xanchor: 'center', yanchor: 'middle', showarrow: false, font: {size: 13, family: FONT, color: '#111'}});

Plotly.newPlot('chart', bandTraces.concat(dotTraces, solidTraces), layout, {staticPlot: true, displayModeBar: false});
</script>
</body></html>
